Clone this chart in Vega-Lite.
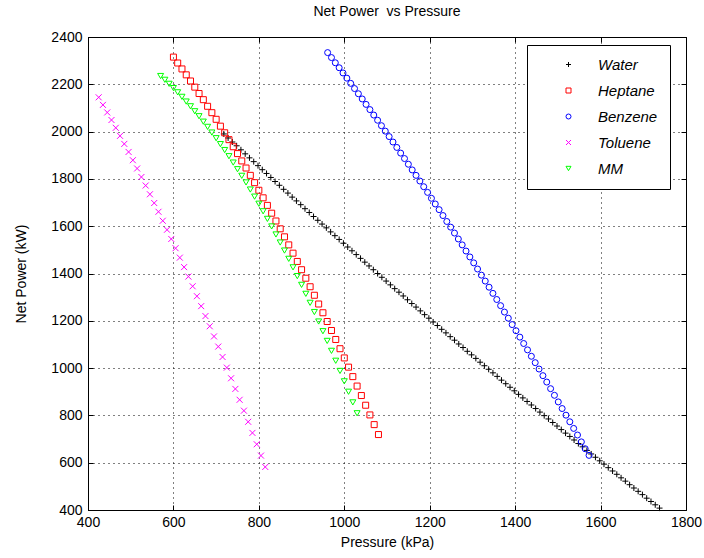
{
  "$schema": "https://vega.github.io/schema/vega-lite/v6.json",
  "width": 598,
  "height": 473,
  "autosize": "none",
  "padding": {"left": 88, "top": 37, "right": 18, "bottom": 48},
  "background": "white",
  "title": {"text": "Net Power\u00a0 vs Pressure", "fontSize": 14, "fontWeight": "normal", "font": "Liberation Sans", "color": "#000", "offset": 11},
  "config": {
    "view": {"stroke": "#000", "strokeWidth": 1},
    "font": "Liberation Sans",
    "axis": {"labelFont": "Liberation Sans", "titleFont": "Liberation Sans"},
    "legend": {"labelFont": "Liberation Sans"}
  },
  "data": {"values": [
    {"s":"Water","p":718,"w":1990},{"s":"Water","p":728,"w":1973},{"s":"Water","p":738,"w":1956},{"s":"Water","p":748,"w":1940},{"s":"Water","p":758,"w":1923},{"s":"Water","p":768,"w":1906},{"s":"Water","p":778,"w":1889},{"s":"Water","p":788,"w":1873},{"s":"Water","p":798,"w":1856},{"s":"Water","p":808,"w":1839},
    {"s":"Water","p":818,"w":1823},{"s":"Water","p":828,"w":1806},{"s":"Water","p":838,"w":1789},{"s":"Water","p":848,"w":1773},{"s":"Water","p":858,"w":1756},{"s":"Water","p":868,"w":1740},{"s":"Water","p":878,"w":1723},{"s":"Water","p":888,"w":1707},{"s":"Water","p":898,"w":1691},{"s":"Water","p":908,"w":1674},
    {"s":"Water","p":918,"w":1658},{"s":"Water","p":928,"w":1641},{"s":"Water","p":938,"w":1625},{"s":"Water","p":948,"w":1609},{"s":"Water","p":958,"w":1593},{"s":"Water","p":968,"w":1576},{"s":"Water","p":978,"w":1560},{"s":"Water","p":988,"w":1544},{"s":"Water","p":998,"w":1528},{"s":"Water","p":1008,"w":1512},
    {"s":"Water","p":1018,"w":1496},{"s":"Water","p":1028,"w":1480},{"s":"Water","p":1038,"w":1464},{"s":"Water","p":1048,"w":1448},{"s":"Water","p":1058,"w":1432},{"s":"Water","p":1068,"w":1416},{"s":"Water","p":1078,"w":1400},{"s":"Water","p":1088,"w":1384},{"s":"Water","p":1098,"w":1368},{"s":"Water","p":1108,"w":1352},
    {"s":"Water","p":1118,"w":1336},{"s":"Water","p":1128,"w":1321},{"s":"Water","p":1138,"w":1305},{"s":"Water","p":1148,"w":1289},{"s":"Water","p":1158,"w":1273},{"s":"Water","p":1168,"w":1258},{"s":"Water","p":1178,"w":1242},{"s":"Water","p":1188,"w":1226},{"s":"Water","p":1198,"w":1211},{"s":"Water","p":1208,"w":1195},
    {"s":"Water","p":1218,"w":1180},{"s":"Water","p":1228,"w":1164},{"s":"Water","p":1238,"w":1149},{"s":"Water","p":1248,"w":1133},{"s":"Water","p":1258,"w":1118},{"s":"Water","p":1268,"w":1102},{"s":"Water","p":1278,"w":1087},{"s":"Water","p":1288,"w":1071},{"s":"Water","p":1298,"w":1056},{"s":"Water","p":1308,"w":1041},
    {"s":"Water","p":1318,"w":1025},{"s":"Water","p":1328,"w":1010},{"s":"Water","p":1338,"w":995},{"s":"Water","p":1348,"w":980},{"s":"Water","p":1358,"w":965},{"s":"Water","p":1368,"w":949},{"s":"Water","p":1378,"w":934},{"s":"Water","p":1388,"w":919},{"s":"Water","p":1398,"w":904},{"s":"Water","p":1408,"w":889},
    {"s":"Water","p":1418,"w":874},{"s":"Water","p":1428,"w":859},{"s":"Water","p":1438,"w":844},{"s":"Water","p":1448,"w":829},{"s":"Water","p":1458,"w":814},{"s":"Water","p":1468,"w":799},{"s":"Water","p":1478,"w":785},{"s":"Water","p":1488,"w":770},{"s":"Water","p":1498,"w":755},{"s":"Water","p":1508,"w":740},
    {"s":"Water","p":1518,"w":725},{"s":"Water","p":1528,"w":711},{"s":"Water","p":1538,"w":696},{"s":"Water","p":1548,"w":681},{"s":"Water","p":1558,"w":667},{"s":"Water","p":1568,"w":652},{"s":"Water","p":1578,"w":637},{"s":"Water","p":1588,"w":623},{"s":"Water","p":1598,"w":608},{"s":"Water","p":1608,"w":594},
    {"s":"Water","p":1618,"w":579},{"s":"Water","p":1628,"w":565},{"s":"Water","p":1638,"w":551},{"s":"Water","p":1648,"w":536},{"s":"Water","p":1658,"w":522},{"s":"Water","p":1668,"w":507},{"s":"Water","p":1678,"w":493},{"s":"Water","p":1688,"w":479},{"s":"Water","p":1698,"w":465},{"s":"Water","p":1708,"w":450},
    {"s":"Water","p":1718,"w":436},{"s":"Water","p":1728,"w":422},{"s":"Water","p":1738,"w":408},
    {"s":"Heptane","p":600,"w":2315},{"s":"Heptane","p":610,"w":2290},{"s":"Heptane","p":620,"w":2265},{"s":"Heptane","p":630,"w":2240},{"s":"Heptane","p":640,"w":2214},{"s":"Heptane","p":650,"w":2188},{"s":"Heptane","p":660,"w":2161},{"s":"Heptane","p":670,"w":2135},{"s":"Heptane","p":680,"w":2107},{"s":"Heptane","p":690,"w":2080},
    {"s":"Heptane","p":700,"w":2052},{"s":"Heptane","p":710,"w":2023},{"s":"Heptane","p":720,"w":1995},{"s":"Heptane","p":730,"w":1966},{"s":"Heptane","p":740,"w":1936},{"s":"Heptane","p":750,"w":1907},{"s":"Heptane","p":760,"w":1876},{"s":"Heptane","p":770,"w":1846},{"s":"Heptane","p":780,"w":1815},{"s":"Heptane","p":790,"w":1784},
    {"s":"Heptane","p":800,"w":1752},{"s":"Heptane","p":810,"w":1720},{"s":"Heptane","p":820,"w":1688},{"s":"Heptane","p":830,"w":1655},{"s":"Heptane","p":840,"w":1622},{"s":"Heptane","p":850,"w":1589},{"s":"Heptane","p":860,"w":1555},{"s":"Heptane","p":870,"w":1521},{"s":"Heptane","p":880,"w":1486},{"s":"Heptane","p":890,"w":1451},
    {"s":"Heptane","p":900,"w":1416},{"s":"Heptane","p":910,"w":1380},{"s":"Heptane","p":920,"w":1344},{"s":"Heptane","p":930,"w":1308},{"s":"Heptane","p":940,"w":1271},{"s":"Heptane","p":950,"w":1234},{"s":"Heptane","p":960,"w":1197},{"s":"Heptane","p":970,"w":1159},{"s":"Heptane","p":980,"w":1121},{"s":"Heptane","p":990,"w":1082},
    {"s":"Heptane","p":1000,"w":1043},{"s":"Heptane","p":1010,"w":1004},{"s":"Heptane","p":1020,"w":964},{"s":"Heptane","p":1030,"w":924},{"s":"Heptane","p":1040,"w":884},{"s":"Heptane","p":1050,"w":843},{"s":"Heptane","p":1060,"w":802},{"s":"Heptane","p":1070,"w":761},{"s":"Heptane","p":1080,"w":719},
    {"s":"Benzene","p":961,"w":2334},{"s":"Benzene","p":970,"w":2313},{"s":"Benzene","p":979,"w":2291},{"s":"Benzene","p":988,"w":2270},{"s":"Benzene","p":997,"w":2248},{"s":"Benzene","p":1006,"w":2226},{"s":"Benzene","p":1015,"w":2204},{"s":"Benzene","p":1024,"w":2182},{"s":"Benzene","p":1033,"w":2160},{"s":"Benzene","p":1042,"w":2138},
    {"s":"Benzene","p":1051,"w":2115},{"s":"Benzene","p":1060,"w":2093},{"s":"Benzene","p":1069,"w":2070},{"s":"Benzene","p":1078,"w":2048},{"s":"Benzene","p":1087,"w":2025},{"s":"Benzene","p":1096,"w":2002},{"s":"Benzene","p":1105,"w":1979},{"s":"Benzene","p":1114,"w":1956},{"s":"Benzene","p":1123,"w":1933},{"s":"Benzene","p":1132,"w":1909},
    {"s":"Benzene","p":1141,"w":1886},{"s":"Benzene","p":1150,"w":1862},{"s":"Benzene","p":1159,"w":1838},{"s":"Benzene","p":1168,"w":1815},{"s":"Benzene","p":1177,"w":1791},{"s":"Benzene","p":1186,"w":1767},{"s":"Benzene","p":1195,"w":1743},{"s":"Benzene","p":1204,"w":1718},{"s":"Benzene","p":1213,"w":1694},{"s":"Benzene","p":1222,"w":1670},
    {"s":"Benzene","p":1231,"w":1645},{"s":"Benzene","p":1240,"w":1620},{"s":"Benzene","p":1249,"w":1596},{"s":"Benzene","p":1258,"w":1571},{"s":"Benzene","p":1267,"w":1546},{"s":"Benzene","p":1276,"w":1521},{"s":"Benzene","p":1285,"w":1495},{"s":"Benzene","p":1294,"w":1470},{"s":"Benzene","p":1303,"w":1445},{"s":"Benzene","p":1312,"w":1419},
    {"s":"Benzene","p":1321,"w":1393},{"s":"Benzene","p":1330,"w":1368},{"s":"Benzene","p":1339,"w":1342},{"s":"Benzene","p":1348,"w":1316},{"s":"Benzene","p":1357,"w":1290},{"s":"Benzene","p":1366,"w":1264},{"s":"Benzene","p":1375,"w":1237},{"s":"Benzene","p":1384,"w":1211},{"s":"Benzene","p":1393,"w":1184},{"s":"Benzene","p":1402,"w":1158},
    {"s":"Benzene","p":1411,"w":1131},{"s":"Benzene","p":1420,"w":1104},{"s":"Benzene","p":1429,"w":1077},{"s":"Benzene","p":1438,"w":1050},{"s":"Benzene","p":1447,"w":1023},{"s":"Benzene","p":1456,"w":996},{"s":"Benzene","p":1465,"w":968},{"s":"Benzene","p":1474,"w":941},{"s":"Benzene","p":1483,"w":913},{"s":"Benzene","p":1492,"w":885},
    {"s":"Benzene","p":1501,"w":857},{"s":"Benzene","p":1510,"w":829},{"s":"Benzene","p":1519,"w":801},{"s":"Benzene","p":1528,"w":773},{"s":"Benzene","p":1537,"w":745},{"s":"Benzene","p":1546,"w":717},{"s":"Benzene","p":1555,"w":688},{"s":"Benzene","p":1564,"w":659},{"s":"Benzene","p":1573,"w":631},
    {"s":"Toluene","p":425,"w":2145},{"s":"Toluene","p":435,"w":2113},{"s":"Toluene","p":445,"w":2081},{"s":"Toluene","p":455,"w":2049},{"s":"Toluene","p":465,"w":2016},{"s":"Toluene","p":475,"w":1982},{"s":"Toluene","p":485,"w":1948},{"s":"Toluene","p":495,"w":1914},{"s":"Toluene","p":505,"w":1879},{"s":"Toluene","p":515,"w":1844},
    {"s":"Toluene","p":525,"w":1808},{"s":"Toluene","p":535,"w":1772},{"s":"Toluene","p":545,"w":1735},{"s":"Toluene","p":555,"w":1698},{"s":"Toluene","p":565,"w":1661},{"s":"Toluene","p":575,"w":1623},{"s":"Toluene","p":585,"w":1585},{"s":"Toluene","p":595,"w":1546},{"s":"Toluene","p":605,"w":1507},{"s":"Toluene","p":615,"w":1467},
    {"s":"Toluene","p":625,"w":1427},{"s":"Toluene","p":635,"w":1387},{"s":"Toluene","p":645,"w":1346},{"s":"Toluene","p":655,"w":1304},{"s":"Toluene","p":665,"w":1262},{"s":"Toluene","p":675,"w":1220},{"s":"Toluene","p":685,"w":1177},{"s":"Toluene","p":695,"w":1134},{"s":"Toluene","p":705,"w":1091},{"s":"Toluene","p":715,"w":1047},
    {"s":"Toluene","p":725,"w":1002},{"s":"Toluene","p":735,"w":957},{"s":"Toluene","p":745,"w":912},{"s":"Toluene","p":755,"w":866},{"s":"Toluene","p":765,"w":820},{"s":"Toluene","p":775,"w":773},{"s":"Toluene","p":785,"w":726},{"s":"Toluene","p":795,"w":678},{"s":"Toluene","p":805,"w":630},{"s":"Toluene","p":815,"w":582},
    {"s":"MM","p":570,"w":2235},{"s":"MM","p":580,"w":2219},{"s":"MM","p":590,"w":2202},{"s":"MM","p":600,"w":2184},{"s":"MM","p":610,"w":2166},{"s":"MM","p":620,"w":2147},{"s":"MM","p":630,"w":2127},{"s":"MM","p":640,"w":2107},{"s":"MM","p":650,"w":2086},{"s":"MM","p":660,"w":2065},
    {"s":"MM","p":670,"w":2042},{"s":"MM","p":680,"w":2020},{"s":"MM","p":690,"w":1996},{"s":"MM","p":700,"w":1972},{"s":"MM","p":710,"w":1947},{"s":"MM","p":720,"w":1922},{"s":"MM","p":730,"w":1896},{"s":"MM","p":740,"w":1869},{"s":"MM","p":750,"w":1841},{"s":"MM","p":760,"w":1813},
    {"s":"MM","p":770,"w":1785},{"s":"MM","p":780,"w":1755},{"s":"MM","p":790,"w":1725},{"s":"MM","p":800,"w":1695},{"s":"MM","p":810,"w":1663},{"s":"MM","p":820,"w":1631},{"s":"MM","p":830,"w":1599},{"s":"MM","p":840,"w":1565},{"s":"MM","p":850,"w":1531},{"s":"MM","p":860,"w":1497},
    {"s":"MM","p":870,"w":1462},{"s":"MM","p":880,"w":1426},{"s":"MM","p":890,"w":1389},{"s":"MM","p":900,"w":1352},{"s":"MM","p":910,"w":1314},{"s":"MM","p":920,"w":1276},{"s":"MM","p":930,"w":1237},{"s":"MM","p":940,"w":1197},{"s":"MM","p":950,"w":1156},{"s":"MM","p":960,"w":1115},
    {"s":"MM","p":970,"w":1073},{"s":"MM","p":980,"w":1031},{"s":"MM","p":990,"w":988},{"s":"MM","p":1000,"w":944},{"s":"MM","p":1010,"w":900},{"s":"MM","p":1020,"w":855},{"s":"MM","p":1030,"w":809}
  ]},
  "layer": [
    {
      "mark": {"type": "point", "filled": false, "strokeWidth": 1, "size": 36, "opacity": 1},
      "encoding": {
        "x": {"field": "p", "type": "quantitative",
          "scale": {"domain": [400, 1800], "nice": false, "zero": false},
          "axis": {"title": "Pressure (kPa)", "values": [400,600,800,1000,1200,1400,1600,1800], "format": "d",
            "grid": true, "gridColor": "#000", "gridDash": [1,4], "gridOpacity": 1, "gridWidth": 1,
            "tickSize": -5, "tickColor": "#000", "domainColor": "#000",
            "labelFontSize": 14, "labelColor": "#000", "labelPadding": 10, "labelFlush": false,
            "titleFontSize": 14, "titleFontWeight": "normal", "titleColor": "#000", "titlePadding": 6}},
        "y": {"field": "w", "type": "quantitative",
          "scale": {"domain": [400, 2400], "nice": false, "zero": false},
          "axis": {"title": "Net Power (kW)", "values": [400,600,800,1000,1200,1400,1600,1800,2000,2200,2400], "format": "d",
            "grid": true, "gridColor": "#000", "gridDash": [1,4], "gridOpacity": 1, "gridWidth": 1,
            "tickSize": -5, "tickColor": "#000", "domainColor": "#000",
            "labelFontSize": 14, "labelColor": "#000", "labelPadding": 11, "labelFlush": false,
            "titleFontSize": 14, "titleFontWeight": "normal", "titleColor": "#000", "titlePadding": 22}},
        "color": {"field": "s", "type": "nominal",
          "scale": {"domain": ["Water","Heptane","Benzene","Toluene","MM"], "range": ["#000000","#ff0000","#0000ff","#ff00ff","#00ff00"]},
          "legend": {"title": null, "orient": "none", "legendX": 439, "legendY": 8, "fillColor": "white", "strokeColor": "#000",
            "padding": 12, "symbolSize": 25, "symbolStrokeWidth": 1, "labelFontSize": 15, "labelFontStyle": "italic", "labelColor": "#000",
            "rowPadding": 10, "symbolOffset": 22, "labelOffset": 22, "labelExpr": "datum.label + '     '"}},
        "shape": {"field": "s", "type": "nominal",
          "scale": {"domain": ["Water","Heptane","Benzene","Toluene","MM"], "range": ["M-1,0H1M0,-1V1","square","circle","M-1,-1L1,1M-1,1L1,-1","triangle-down"]},
          "legend": {"title": null, "orient": "none", "legendX": 439, "legendY": 8, "fillColor": "white", "strokeColor": "#000",
            "padding": 12, "symbolSize": 25, "symbolStrokeWidth": 1, "labelFontSize": 15, "labelFontStyle": "italic", "labelColor": "#000",
            "rowPadding": 10, "symbolOffset": 22, "labelOffset": 22, "labelExpr": "datum.label + '     '"}}
      }
    },
    {
      "mark": {"type": "point", "opacity": 0},
      "encoding": {
        "x": {"field": "p", "type": "quantitative",
          "axis": {"orient": "top", "title": null, "labels": false, "grid": false, "domain": false,
            "values": [400,600,800,1000,1200,1400,1600,1800], "tickSize": -5, "tickColor": "#000"}},
        "y": {"field": "w", "type": "quantitative",
          "axis": {"orient": "right", "title": null, "labels": false, "grid": false, "domain": false,
            "values": [400,600,800,1000,1200,1400,1600,1800,2000,2200,2400], "tickSize": -5, "tickColor": "#000"}}
      }
    }
  ],
  "resolve": {"axis": {"x": "independent", "y": "independent"}}
}
